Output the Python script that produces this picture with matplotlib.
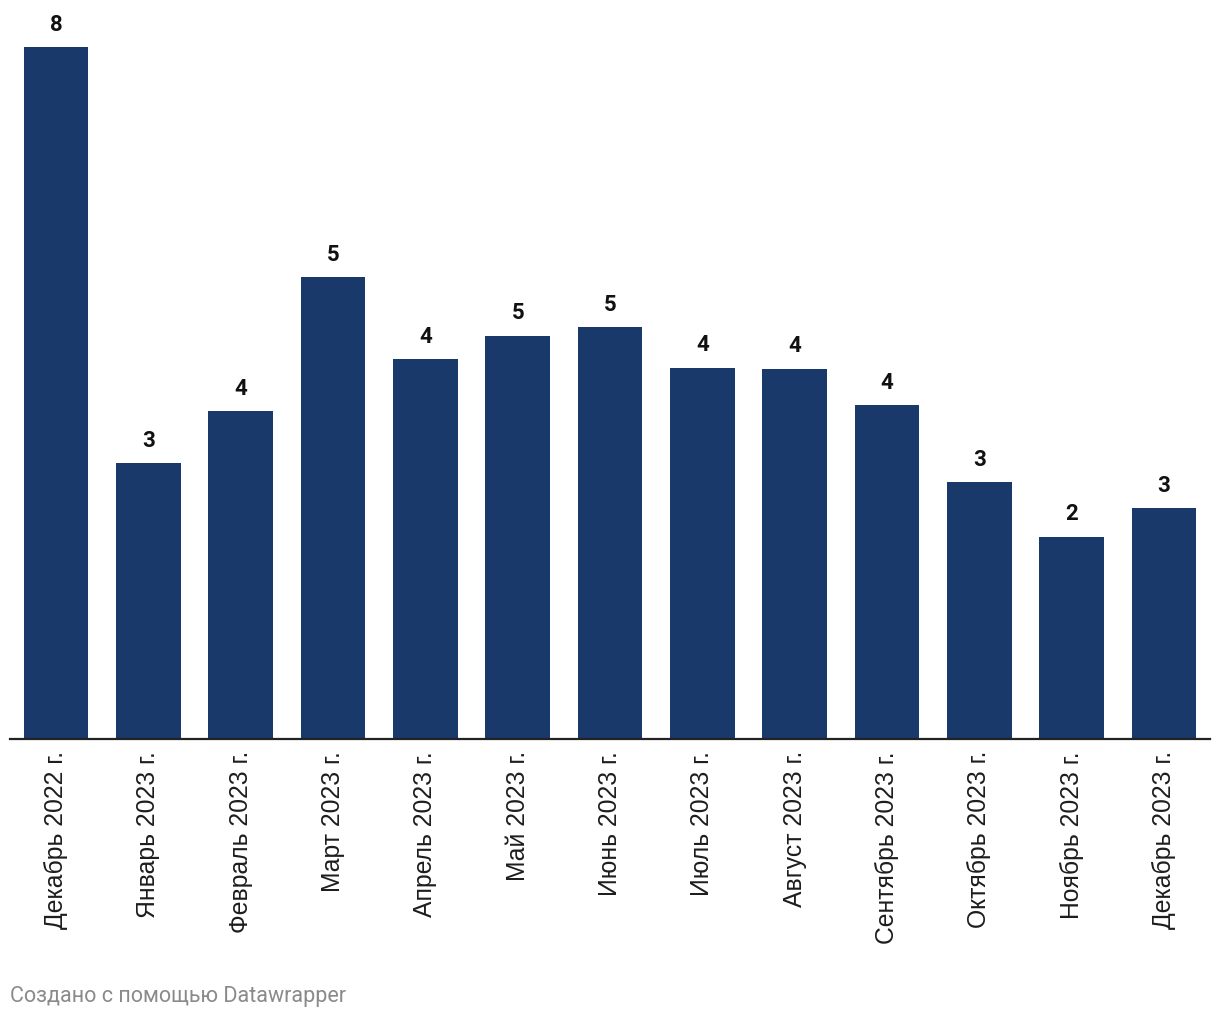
import matplotlib.pyplot as plt

months = ["Декабрь 2022 г.", "Январь 2023 г.", "Февраль 2023 г.", "Март 2023 г.",
          "Апрель 2023 г.", "Май 2023 г.", "Июнь 2023 г.", "Июль 2023 г.",
          "Август 2023 г.", "Сентябрь 2023 г.", "Октябрь 2023 г.", "Ноябрь 2023 г.",
          "Декабрь 2023 г."]
values = [8.0, 3.19, 3.79, 5.34, 4.39, 4.66, 4.76, 4.29, 4.28, 3.86, 2.97, 2.34, 2.67]
footer = "Создано с помощью Datawrapper"

bar_color = "#19396a"

fig = plt.figure(figsize=(12.2, 10.2), dpi=100)
ax = fig.add_axes([10 / 1220, 280 / 1020, 1200 / 1220, 730 / 1020])

x = range(len(months))
bars = ax.bar(x, values, width=0.7, color=bar_color, zorder=2)
# value labels above the bars, rounded like the original
for b, v in zip(bars, values):
    ax.annotate(f"{v:.0f}", (b.get_x() + b.get_width() / 2, v), xytext=(0, 9),
                textcoords="offset points", ha="center", va="bottom",
                fontsize=16, fontweight="bold", family="Roboto", color="#111111")

ax.set_xlim(-0.5, len(months) - 0.5)
ax.set_ylim(0, 8.44)
ax.set_xticks(list(x))
ax.set_xticklabels(months, rotation=90, fontsize=17.8, family="Liberation Sans", color="#1d1d1d")
ax.tick_params(axis="x", length=0, pad=8)
ax.set_yticks([])
for s in ["top", "right", "left"]:
    ax.spines[s].set_visible(False)
ax.spines["bottom"].set_linewidth(1.6)
ax.spines["bottom"].set_color("#222222")

fig.text(10 / 1220, 1 - 997 / 1020, footer, fontsize=15.5, family="Roboto",
         color="#8a8a8a", ha="left", va="center")

fig.savefig("out.png", dpi=100)
